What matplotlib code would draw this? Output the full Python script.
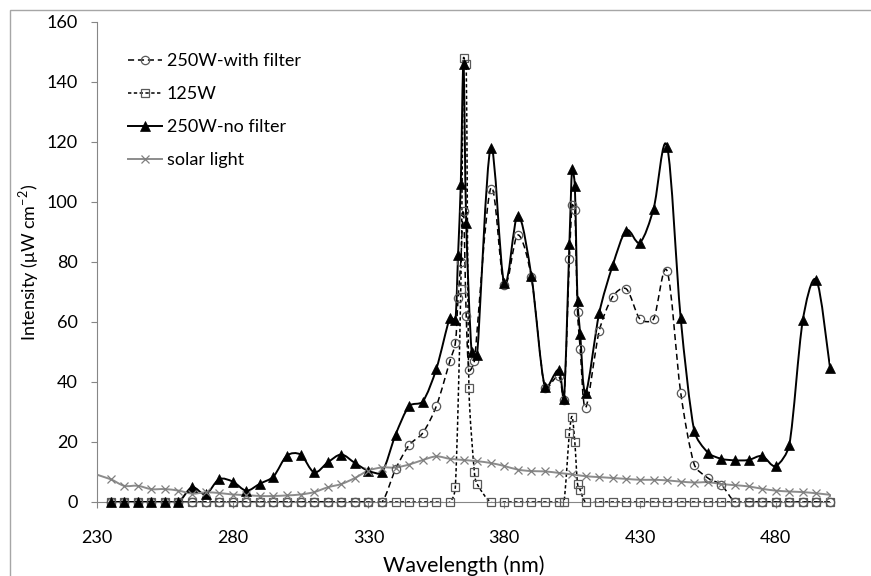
import numpy as np
import matplotlib
matplotlib.use('Agg')
import matplotlib.pyplot as plt
from matplotlib.path import Path
from matplotlib.patches import PathPatch, Rectangle
from matplotlib.lines import Line2D

plt.rcParams['font.family'] = ['Lato', 'DejaVu Sans']

######## 250W lamp, with filter
wl_filter = [235, 240, 245, 250, 255, 260, 265, 270, 275, 280, 285, 290, 295, 300,
             305, 310, 315, 320, 325, 330, 335, 340, 345, 350, 355, 360, 362, 363,
             364, 365, 366, 367, 369, 375, 380, 385, 390, 395, 400, 402, 404, 405,
             406, 407, 408, 410, 415, 420, 425, 430, 435, 440, 445, 450, 455, 460,
             465, 470, 475, 480, 485, 490, 495, 500]
int_filter = [0, 0, 0, 0, 0, 0, 0, 0, 0, 0, 0, 0, 0, 0,
              0, 0, 0, 0, 0, 0, 0, 11, 19, 23, 32, 47, 53, 68,
              80, 97, 62, 44, 47, 104.5, 72.5, 89, 75, 38, 42, 34, 81, 99,
              97.5, 63.5, 51, 31.5, 57, 68.5, 71, 61, 61, 77, 36.5, 12.5, 8, 5.7,
              0, 0, 0, 0, 0, 0, 0, 0]

######## 125W lamp
wl_125 = [235, 240, 245, 250, 255, 260, 265, 270, 275, 280, 285, 290, 295, 300,
          305, 310, 315, 320, 325, 330, 335, 340, 345, 350, 355, 360, 362, 364,
          365, 366, 367, 369, 370, 375, 380, 385, 390, 395, 400, 402, 404, 405,
          406, 407, 408, 410, 415, 420, 425, 430, 435, 440, 445, 450, 455, 460,
          465, 470, 475, 480, 485, 490, 495, 500]
int_125 = [0, 0, 0, 0, 0, 0, 0, 0, 0, 0, 0, 0, 0, 0,
           0, 0, 0, 0, 0, 0, 0, 0, 0, 0, 0, 0, 5, 71,
           148, 146, 38, 10, 6, 0, 0, 0, 0, 0, 0, 0, 23, 28.5,
           20, 6, 4, 0, 0, 0, 0, 0, 0, 0, 0, 0, 0, 0,
           0, 0, 0, 0, 0, 0, 0, 0]

######## 250W lamp, no filter
wl_nofilter = [235, 240, 245, 250, 255, 260, 265, 270, 275, 280, 285, 290, 295, 300,
               305, 310, 315, 320, 325, 330, 335, 340, 345, 350, 355, 360, 362, 363,
               364, 365, 366, 368, 370, 375, 380, 385, 390, 395, 400, 402, 404, 405,
               406, 407, 408, 410, 415, 420, 425, 430, 435, 440, 445, 450, 455, 460,
               465, 470, 475, 480, 485, 490, 495, 500]
int_nofilter = [0, 0, 0, 0, 0, 0, 4.9, 2.6, 7.6, 6.8, 3.8, 6.1, 8.5, 15.5,
                15.8, 9.9, 13.2, 15.8, 13, 10.4, 10, 22.5, 32, 33.5, 44.4, 61.5, 60.7, 82.5,
                106, 146, 93, 50, 49, 118, 73, 95.5, 75.3, 38.3, 44, 34.5, 86, 111,
                105.5, 67, 56, 36.5, 63, 79, 90.5, 86.5, 97.7, 118.5, 61.3, 23.7, 16.5, 14.4,
                13.9, 14, 15.3, 12, 19, 60.7, 74, 44.8]

######## solar light
wl_solar = [225, 235, 240, 245, 250, 255, 260, 265, 270, 275, 280, 285, 290, 295,
            300, 305, 310, 315, 320, 325, 330, 335, 340, 345, 350, 355, 360, 365,
            370, 375, 380, 385, 390, 395, 400, 405, 410, 415, 420, 425, 430, 435,
            440, 445, 450, 455, 460, 465, 470, 475, 480, 485, 490, 495, 500]
int_solar = [10.5, 7.6, 5.4, 5.4, 4.3, 4.3, 3.8, 2.8, 3.2, 3.0, 2.5, 2.3, 2.0, 2.0,
             2.2, 2.5, 3.3, 4.9, 6.0, 8.0, 10.5, 11.5, 11.5, 12.5, 14.0, 15.2, 14.4, 14.0,
             13.6, 13.0, 12.0, 10.8, 10.3, 10.2, 9.7, 9.2, 8.6, 8.3, 8.0, 7.7, 7.4, 7.4,
             7.2, 6.8, 6.5, 6.6, 6.0, 5.6, 5.2, 4.4, 3.8, 3.5, 3.3, 2.9, 2.4]

SX, SY = 2.712, 3.0   # 近似像素比例, 用于平滑


def smooth_path(x, y):
    # 平滑曲线 (Catmull-Rom -> Bezier), 控制点长度限制在段长 1/3 以内
    pts = np.column_stack([np.asarray(x, float) * SX, np.asarray(y, float) * SY])
    n = len(pts)
    verts = [pts[0]]
    codes = [Path.MOVETO]
    for i in range(n - 1):
        p0 = pts[max(i - 1, 0)]
        p1 = pts[i]
        p2 = pts[i + 1]
        p3 = pts[min(i + 2, n - 1)]
        seg = np.hypot(*(p2 - p1)) / 3.0
        d1 = (p2 - p0) / 6.0
        d2 = (p3 - p1) / 6.0
        l1 = np.hypot(*d1)
        l2 = np.hypot(*d2)
        if l1 > seg:
            d1 = d1 * seg / l1
        if l2 > seg:
            d2 = d2 * seg / l2
        verts += [p1 + d1, p2 - d2, p2]
        codes += [Path.CURVE4] * 3
    verts = np.array(verts) / [SX, SY]
    return Path(verts, codes)


def draw_series(ax, x, y, color, ls, lw, mk, clip=False):
    patch = PathPatch(smooth_path(x, y), facecolor='none', edgecolor=color,
                      linewidth=lw, linestyle=ls, zorder=2)
    ax.add_patch(patch)
    ax.plot(x, y, linestyle='none', clip_on=clip, zorder=3, **mk)
   #^^^^^^^END


series = [
    (wl_filter, int_filter, 'black', (0, (4, 2.5)), 1.1,
     dict(marker='o', ms=6, mfc='none', mec='#595959', mew=0.9), '250W-with filter'),
    (wl_125, int_125, 'black', (0, (2.2, 1.6)), 1.1,
     dict(marker='s', ms=5.2, mfc='none', mec='#595959', mew=0.9), '125W'),
    (wl_nofilter, int_nofilter, 'black', '-', 1.4,
     dict(marker='^', ms=7, mfc='black', mec='black', mew=0.5), '250W-no filter'),
    (wl_solar, int_solar, '#8c8c8c', '-', 1.4,
     dict(marker='x', ms=6, mec='#7f7f7f', mew=0.9), 'solar light'),
]

fig = plt.figure(figsize=(8.71, 5.76), dpi=100)
ax = fig.add_axes([97 / 871, 74 / 576, 733 / 871, 480 / 576])

handles = []
for x, y, col, ls, lw, mk, lab in series:
    draw_series(ax, x, y, col, ls, lw, mk, clip=(lab == 'solar light'))
    handles.append(Line2D([], [], color=col, linestyle=ls, linewidth=lw, label=lab, **mk))

ax.set_xlim(230, 500)
ax.set_ylim(0, 160)
ax.set_xticks([230, 280, 330, 380, 430, 480])
ax.set_yticks(np.arange(0, 161, 20))

for s in ['top', 'right']:
    ax.spines[s].set_visible(False)
for s in ['left', 'bottom']:
    ax.spines[s].set_color('#868686')
    ax.spines[s].set_linewidth(0.8)
    ax.spines[s].set_zorder(1)
ax.tick_params(axis='both', direction='out', length=4, width=0.8, color='#868686',
               labelsize=13)
ax.tick_params(axis='x', pad=16)
ax.tick_params(axis='y', pad=10)

ax.set_xlabel('Wavelength (nm)', fontsize=15.5)
ax.set_ylabel('Intensity (μW cm$^{\\mathregular{-2}}$)', fontsize=13)
ax.xaxis.set_label_coords(0.5, -0.112)
ax.yaxis.set_label_coords(-0.077, 0.5)

leg = ax.legend(handles=handles, loc='upper left', frameon=False, fontsize=13,
                bbox_to_anchor=(128 / 871, 1 - 53 / 576), bbox_transform=fig.transFigure,
                borderpad=0, borderaxespad=0, handlelength=1.9, handletextpad=0.25,
                labelspacing=0.95, numpoints=1)

######## 外框
fig.patches.append(Rectangle((10 / 871, -0.5), 2, 1.5 - 10 / 576, transform=fig.transFigure,
                             facecolor='none', edgecolor='#a6a6a6', linewidth=1))

fig.savefig('out.png', dpi=100)
